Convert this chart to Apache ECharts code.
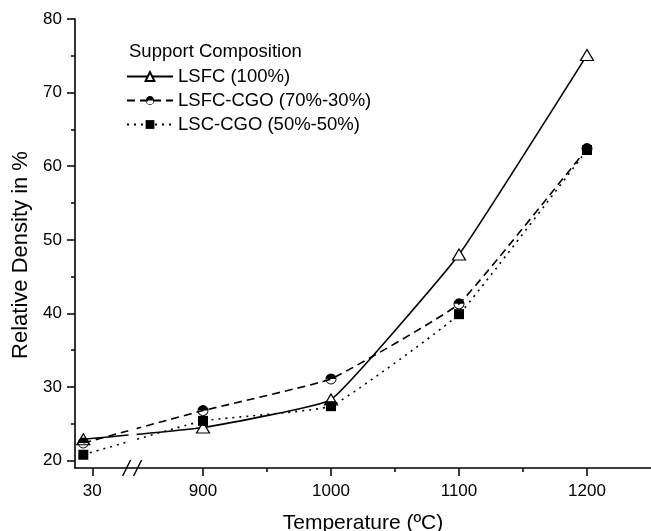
<!DOCTYPE html>
<html><head><meta charset="utf-8">
<script src="https://cdn.jsdelivr.net/npm/echarts@6/dist/echarts.min.js"></script>
<style>html,body{margin:0;padding:0;background:#fff}#c{width:651px;height:531px}</style>
</head><body><div id="c"></div>
<script>
// ---- data ----
const temperatures = [30, 900, 1000, 1100, 1200];
const lsfc = [22.9, 24.5, 28.3, 48.0, 75.1];
const lsfcCgo = [22.4, 26.8, 31.1, 41.3, 62.4];
const lscCgo = [20.8, 25.4, 27.4, 39.9, 62.2];
const seriesNames = ['LSFC (100%)', 'LSFC-CGO (70%-30%)', 'LSC-CGO (50%-50%)'];
const xTickValues = [30, 900, 1000, 1100, 1200];
const xMinorTicks = [950, 1050, 1150];
const yTickValues = [20, 30, 40, 50, 60, 70, 80];
const yMinorTicks = [25, 35, 45, 55, 65, 75];

// broken axis: values below the break are shifted next to 900
const BREAK_AT = 845;
function pos(t) { return t < BREAK_AT ? t + 776.5 : t; }
function tickPos(t) { return t < BREAK_AT ? pos(t) + 7 : t; }

const FONT = "'Liberation Sans', Arial, sans-serif";
const halfCircle = 'path://M0 10 A10 10 0 0 1 20 10 Z M20 10 A10 10 0 0 1 0 10 L1.6 10 A8.4 8.4 0 0 0 18.4 10 Z';

const chart = echarts.init(document.getElementById('c'), null, {renderer: 'canvas'});
const mk = arr => temperatures.map((t, i) => [pos(t), arr[i]]);

const option = {
  backgroundColor: '#fff',
  animation: false,
  title: {
    text: 'Support Composition', left: 124, top: 37,
    textStyle: {fontFamily: FONT, fontSize: 18.5, fontWeight: 'normal', color: '#000'}
  },
  legend: {
    orient: 'vertical', left: 121, top: 62, itemWidth: 46, itemHeight: 11, itemGap: 5,
    textStyle: {fontFamily: FONT, fontSize: 18.5, color: '#000'},
    data: seriesNames
  },
  grid: {left: 75, right: 0, top: 19, bottom: 63, containLabel: false, outerBoundsMode: 'none'},
  xAxis: [{
    type: 'value', min: 800, max: 1250, position: 'bottom',
    axisLine: {show: true, lineStyle: {color: '#000', width: 1.6}},
    axisTick: {show: true, customValues: xTickValues.map(tickPos), length: 8, lineStyle: {color: '#000', width: 1.5}},
    axisLabel: {customValues: xTickValues.map(tickPos), margin: 15, fontFamily: FONT, fontSize: 17, color: '#000',
      formatter: v => { const i = xTickValues.map(tickPos).indexOf(v); return i >= 0 ? String(xTickValues[i]) : ''; }},
    splitLine: {show: false},
    name: 'Temperature (ºC)', nameLocation: 'middle', nameGap: 45,
    nameTextStyle: {fontFamily: FONT, fontSize: 21, color: '#000'}
  }, {
    type: 'value', min: 800, max: 1250, position: 'bottom', offset: 0,
    axisLine: {show: false},
    axisTick: {show: true, customValues: xMinorTicks, length: 4, lineStyle: {color: '#000', width: 1.5}},
    axisLabel: {show: false}, splitLine: {show: false}
  }],
  yAxis: [{
    type: 'value', min: 19, max: 80, position: 'left',
    axisLine: {show: true, lineStyle: {color: '#000', width: 1.6}},
    axisTick: {show: true, customValues: yTickValues, length: 8, lineStyle: {color: '#000', width: 1.5}},
    axisLabel: {customValues: yTickValues, margin: 13, fontFamily: FONT, fontSize: 17, color: '#000'},
    splitLine: {show: false}
  }, {
    type: 'value', min: 19, max: 80, position: 'left', offset: 0,
    axisLine: {show: false},
    axisTick: {show: true, customValues: yMinorTicks, length: 4, lineStyle: {color: '#000', width: 1.5}},
    axisLabel: {show: false}, splitLine: {show: false}
  }],
  series: [{
    name: seriesNames[0], type: 'line', data: mk(lsfc), smooth: 0.1, z: 2,
    symbol: 'triangle', symbolSize: [13, 11],
    lineStyle: {color: '#000', width: 1.6, type: 'solid'},
    itemStyle: {color: '#fff', borderColor: '#000', borderWidth: 1.2}
  }, {
    name: seriesNames[1], type: 'line', data: mk(lsfcCgo), smooth: 0.1, z: 4,
    symbol: halfCircle, symbolSize: 11,
    lineStyle: {color: '#000', width: 1.6, type: [8, 5]},
    itemStyle: {color: '#000'}
  }, {
    name: seriesNames[2], type: 'line', data: mk(lscCgo), smooth: 0.1, z: 3,
    symbol: 'rect', symbolSize: 10,
    lineStyle: {color: '#000', width: 1.6, type: [2, 5]},
    itemStyle: {color: '#000'}
  }]
};
chart.setOption(option);

// axis break decoration
const bx = chart.convertToPixel({xAxisIndex: 0}, BREAK_AT);
const yBandTop = chart.convertToPixel({yAxisIndex: 0}, 30);
const yAx = chart.convertToPixel({yAxisIndex: 0}, 19);
chart.setOption({
  graphic: [
    {type: 'rect', shape: {x: bx - 4, y: yBandTop, width: 8, height: yAx - yBandTop - 1.5}, style: {fill: '#fff'}, z: 100},
    {type: 'line', shape: {x1: bx - 10, y1: yAx + 8, x2: bx - 2, y2: yAx - 8}, style: {stroke: '#000', lineWidth: 1.5}, z: 101},
    {type: 'line', shape: {x1: bx + 1, y1: yAx + 8, x2: bx + 9, y2: yAx - 8}, style: {stroke: '#000', lineWidth: 1.5}, z: 101},
    {type: 'text', x: 21, y: 255, rotation: Math.PI / 2,
      style: {text: 'Relative Density in %', fontFamily: FONT, fontSize: 22, fill: '#000', align: 'center', verticalAlign: 'middle'}, z: 101}
  ]
});
</script></body></html>
